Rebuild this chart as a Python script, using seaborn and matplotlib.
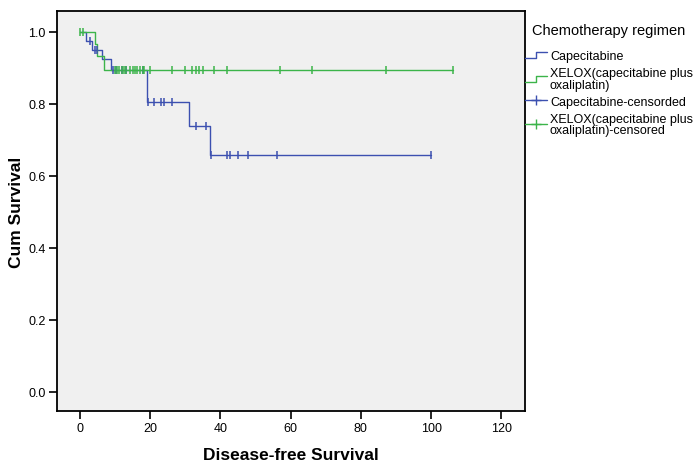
import numpy as np
import pandas as pd
import matplotlib
matplotlib.use("Agg")
import matplotlib.pyplot as plt
from matplotlib.lines import Line2D
from matplotlib.legend_handler import HandlerBase
import seaborn as sns

# Kaplan-Meier steps
cape_event_t = [1.9, 3.5, 6.2, 9.0, 19.0, 31.0, 37.0]
cape_surv = [0.976, 0.951, 0.926, 0.893, 0.805, 0.738, 0.657]
cape_cens_t = [2.8, 4.4, 4.8, 9.5, 10.4, 11.9, 13.1, 17.9, 19.5, 21.1, 23.0,
               23.9, 26.1, 33.0, 35.9, 37.2, 42.0, 42.7, 45.1, 47.9, 56.0, 100.0]

xelox_event_t = [4.3, 5.0, 7.0]
xelox_surv = [0.967, 0.933, 0.893]
xelox_cens_t = [0.0, 1.0, 10.0, 10.6, 11.2, 11.9, 12.5, 13.1, 14.2, 15.0, 15.7,
                16.4, 17.1, 17.9, 18.2, 19.9, 26.1, 30.0, 32.0, 33.0, 34.0,
                35.0, 38.1, 42.0, 57.0, 66.2, 87.1, 106.2]

groups = ["Capecitabine", "XELOX(capecitabine plus\noxaliplatin)"]
colors = ["#3c50b0", "#3cb44a"]
x_ticks = [0, 20, 40, 60, 80, 100, 120]
y_ticks = [0.0, 0.2, 0.4, 0.6, 0.8, 1.0]


def km_frame(name, ev_t, surv, cens_t):
    t = [0.0] + list(ev_t) + [max(cens_t)]
    s = [1.0] + list(surv) + [surv[-1]]
    steps = pd.DataFrame({"time": t, "surv": s, "group": name})
    # level of the curve at each censor time
    idx = np.searchsorted(np.array(ev_t), np.array(cens_t), side="right")
    levels = np.array([1.0] + list(surv))[idx]
    cens = pd.DataFrame({"time": cens_t, "surv": levels, "group": name})
    return steps, cens


class StepHandler(HandlerBase):
    def create_artists(self, legend, orig, xd, yd, width, height, fontsize, trans):
        x0 = -xd
        y0 = -yd
        xs = [x0, x0 + width * 0.5, x0 + width * 0.5, x0 + width]
        ys = [y0 + height * 0.1, y0 + height * 0.1, y0 + height * 0.8, y0 + height * 0.8]
        ln = Line2D(xs, ys, color=orig.get_color(), lw=1.0, transform=trans)
        return [ln]


sns.set_style("white", {"text.color": "black", "axes.labelcolor": "black",
                        "xtick.color": "black", "ytick.color": "black"})
plt.rcParams["font.family"] = ["Liberation Sans", "DejaVu Sans"]

fig = plt.figure(figsize=(6.94, 4.64), dpi=100)
ax = fig.add_axes([0.0821, 0.112, 0.6744, 0.862])
ax.set_facecolor("#f0f0f0")

data = [(cape_event_t, cape_surv, cape_cens_t), (xelox_event_t, xelox_surv, xelox_cens_t)]
for name, col, (ev, sv, cs) in zip(groups, colors, data):
    steps, cens = km_frame(name, ev, sv, cs)
    sns.lineplot(data=steps, x="time", y="surv", ax=ax, color=col, lw=1.0,
                 drawstyle="steps-post", estimator=None, sort=False, legend=False)
    sns.scatterplot(data=cens, x="time", y="surv", ax=ax, color=col, marker="|",
                    s=40, linewidth=1.1, legend=False, zorder=3)

ax.set_xlim(-6.5, 126.7)
ax.set_ylim(-0.053, 1.058)
ax.set_xticks(x_ticks)
ax.set_yticks(y_ticks)
ax.set_yticklabels([f"{v:.1f}" for v in y_ticks])
ax.tick_params(axis="both", direction="out", length=6, width=1.2, color="black",
               labelcolor="black", labelsize=9, pad=2, left=True, bottom=True)
for sp in ax.spines.values():
    sp.set_color("black")
    sp.set_linewidth(1.3)

ax.set_xlabel("Disease-free Survival", fontsize=12.5, fontweight="bold", labelpad=9,
              color="black")
ax.set_ylabel("Cum Survival", fontsize=12.5, fontweight="bold", labelpad=3,
              color="black")

handles = [
    Line2D([], [], color=colors[0]),
    Line2D([], [], color=colors[1]),
    Line2D([], [], color=colors[0], marker="+", markersize=7.5, lw=1.0),
    Line2D([], [], color=colors[1], marker="+", markersize=7.5, lw=1.0),
]
labels = [groups[0], groups[1], "Capecitabine-censorded",
          "XELOX(capecitabine plus\noxaliplatin)-censored"]
fig.text(532 / 694, 1 - 35 / 464, "Chemotherapy regimen", fontsize=10.5,
         ha="left", va="baseline", color="black")
leg = fig.legend(handles, labels, loc="upper left", bbox_to_anchor=(525 / 694, 1 - 51 / 464),
                 frameon=False, fontsize=9, handlelength=1.75, handletextpad=0.25,
                 labelspacing=0.4, borderaxespad=0, borderpad=0,
                 handler_map={handles[0]: StepHandler(), handles[1]: StepHandler()})
for t in leg.get_texts():
    t.set_linespacing(0.95)
    t.set_color("black")

fig.savefig("out.png", dpi=100)
